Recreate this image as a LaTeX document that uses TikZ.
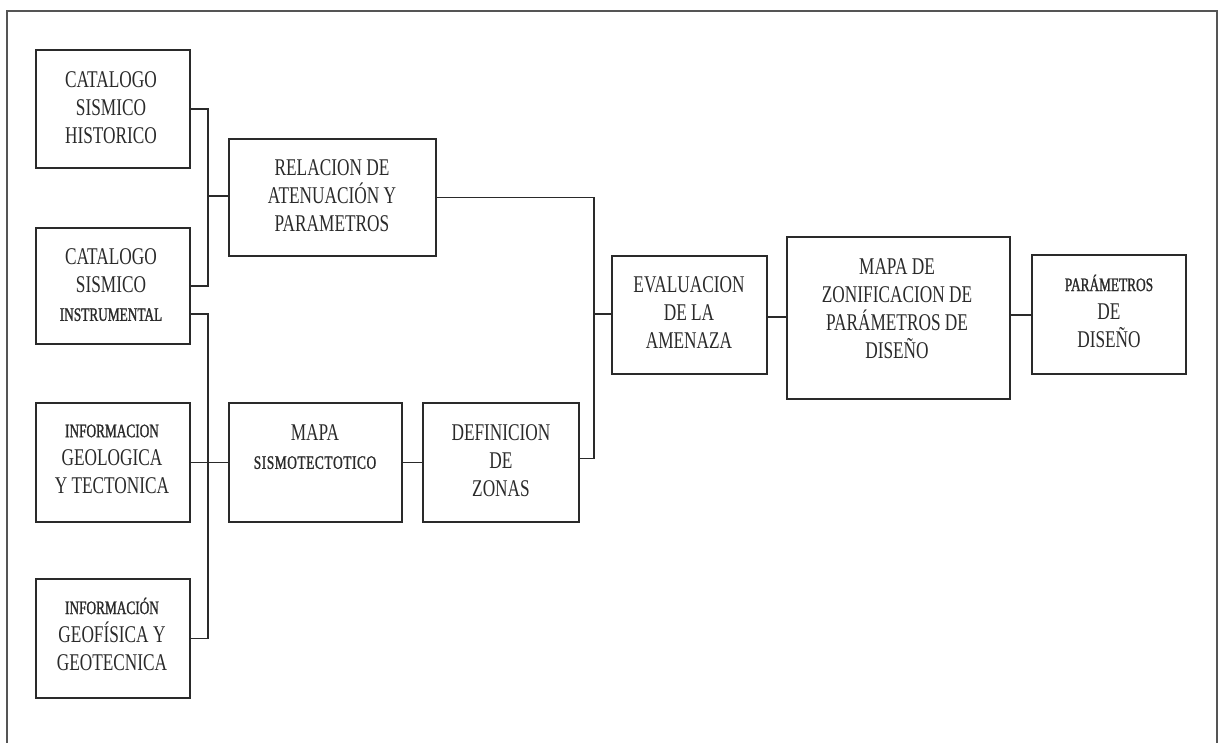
\documentclass[tikz,border=0pt]{standalone}
\usepackage{fontspec}
\usetikzlibrary{calc}
\setmainfont{Liberation Serif}
\newfontfamily\condfont[FakeStretch=0.72]{Liberation Serif}
\newfontfamily\condheavy[FakeStretch=0.70,FakeBold=1.2]{Liberation Serif}
\newcommand\smtxt{\condheavy\fontsize{19}{28}\selectfont}
\definecolor{ink}{HTML}{2A2A2A}
\definecolor{framec}{HTML}{555555}
\tikzset{
  box/.style={draw=ink, line width=1.6pt, inner sep=0pt, fill=none},
  txt/.style={align=center, inner sep=0pt, text=ink, font=\condfont\fontsize{24}{28}\selectfont},
  link/.style={draw=ink, line width=1.6pt},
}
\begin{document}
\begin{tikzpicture}[x=1pt,y=-1pt]
\useasboundingbox (0,0) rectangle (1219,743);
\draw[framec, line width=1.8pt] (7,743) -- (7,11) -- (1217,11) -- (1217,743);
% boxes
\node[box, minimum width=154, minimum height=118] (csh) at (113,109) {};
\node[box, minimum width=154, minimum height=116] (csi) at (113,286) {};
\node[box, minimum width=207, minimum height=117] (rap) at (332.5,197.5) {};
\node[box, minimum width=154, minimum height=119] (igt) at (113,462.5) {};
\node[box, minimum width=154, minimum height=119] (iggt) at (113,638.5) {};
\node[box, minimum width=173, minimum height=119] (mapa) at (315.5,462.5) {};
\node[box, minimum width=156, minimum height=119] (def) at (501,462.5) {};
\node[box, minimum width=155, minimum height=118] (eva) at (689.5,315) {};
\node[box, minimum width=223, minimum height=162] (mz) at (898.5,318) {};
\node[box, minimum width=154, minimum height=119] (pd) at (1109,314.5) {};
% texts
\node[txt] (csh-t) at (111,108) {CATALOGO\\SISMICO\\HISTORICO};
\node[txt] (csi-t) at (111,285) {CATALOGO\\SISMICO\\{\smtxt INSTRUMENTAL}};
\node[txt] (rap-t) at (332,196) {RELACION DE\\ATENUACIÓN Y\\PARAMETROS};
\node[txt] (igt-t) at (112,459) {{\smtxt INFORMACION}\\GEOLOGICA\\Y TECTONICA};
\node[txt] (iggt-t) at (112,634) {{\smtxt INFORMACIÓN}\\GEOFÍSICA Y\\GEOTECNICA};
\node[txt] (mapa-t) at (315,447) {MAPA\\{\smtxt S\kern.6pt I\kern.6pt S\kern.6pt M\kern.6pt O\kern.6pt T\kern.6pt E\kern.6pt C\kern.6pt T\kern.6pt O\kern.6pt T\kern.6pt I\kern.6pt C\kern.6pt O}};
\node[txt] (def-t) at (501,461) {DEFINICION\\DE\\ZONAS};
\node[txt] (eva-t) at (689,313) {EVALUACION\\DE LA\\AMENAZA};
\node[txt] (mz-t) at (897,309) {MAPA DE\\ZONIFICACION DE\\PARÁMETROS DE\\DISEÑO};
\node[txt] (pd-t) at (1109,311) {{\smtxt PARÁMETROS}\\DE\\DISEÑO};
% junction coordinates
\coordinate (b1) at (208,196);
\coordinate (b2) at (208,314);
\coordinate (b3) at (594,314);
% connectors
\draw[link] (csh.east) -- (csh.east -| b1) -- (csi.east -| b1) -- (csi.east);
\draw[link] (b1) -- (rap.west |- b1);
\draw[link] ($(csi.east)+(0,28)$) -- (b2) -- (iggt.east -| b2) -- (iggt.east);
\draw[link] (igt.east) -- (mapa.west |- igt.east);
\draw[link] (mapa.east) -- (def.west |- mapa.east);
\draw[link] ($(def.east)+(0,-4)$) -- ($(def.east -| b3)+(0,-4)$) -- (rap.east -| b3) -- (rap.east);
\draw[link] (b3) -- (eva.west |- b3);
\draw[link] ($(eva.east)+(0,2)$) -- ($(mz.west |- eva.east)+(0,2)$);
\draw[link] ($(mz.east)+(0,-3)$) -- ($(pd.west |- mz.east)+(0,-3)$);
\end{tikzpicture}
\end{document}
